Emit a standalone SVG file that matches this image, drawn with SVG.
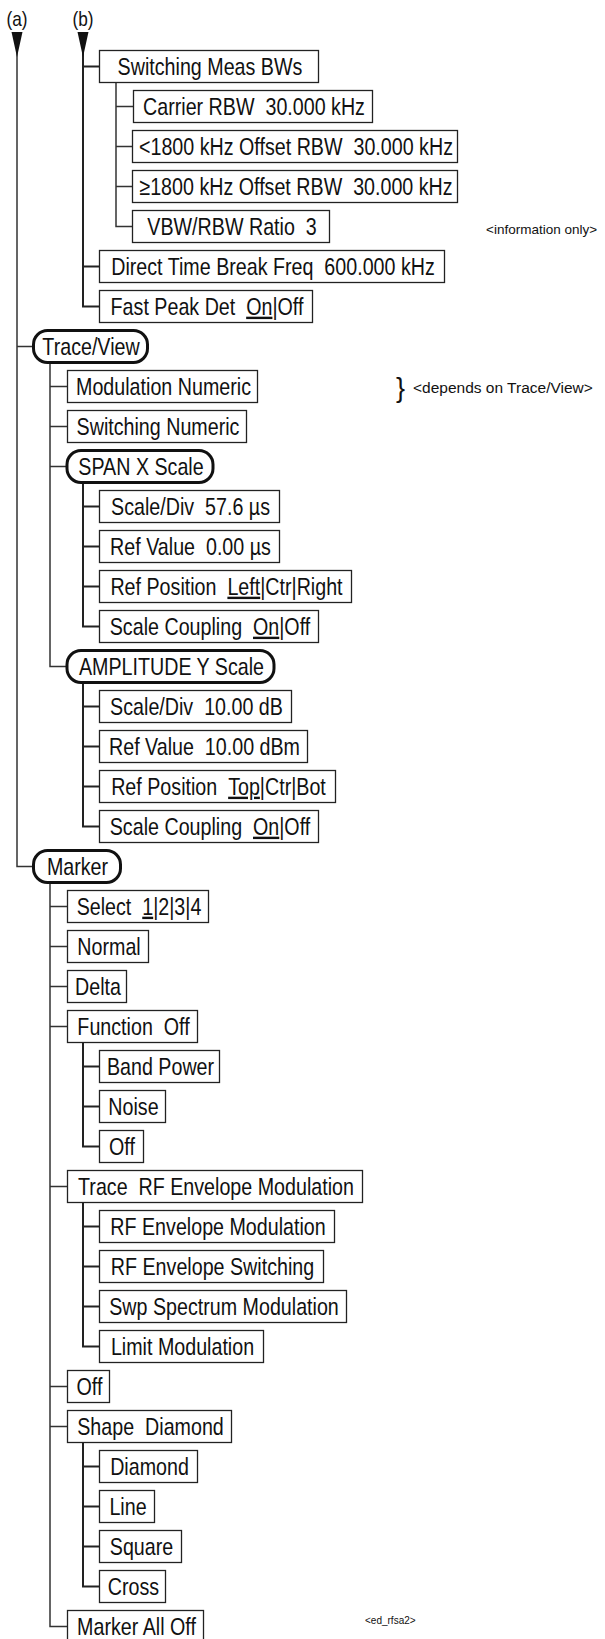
<svg xmlns="http://www.w3.org/2000/svg" width="605" height="1639" viewBox="0 0 605 1639">
<style>
text{font-family:"Liberation Sans",Arial,sans-serif;fill:#111}
.t{font-size:24px;text-anchor:middle}
.b{fill:#fff;stroke:#222;stroke-width:1.3}
.r{fill:#fff;stroke:#111;stroke-width:3}
.c{fill:none;stroke:#333;stroke-width:1.5}
.c2{fill:none;stroke:#222;stroke-width:2}
.u{text-decoration:underline}
</style>
<rect width="605" height="1639" fill="#fff"/>
<g id="connectors">
<path class="c" d="M17,32V866.5H33M17,346.5H33"/>
<path class="c2" d="M83,32V306.5H99M83,66.5H99M83,266.5H99"/>
<path class="c" d="M116,83V226.5H133M116,106.5H133M116,146.5H133M116,186.5H133"/>
<path class="c" d="M50,363V666.5H67M50,386.5H67M50,426.5H67M50,466.5H67"/>
<path class="c2" d="M83,484V626.5H99M83,506.5H99M83,546.5H99M83,586.5H99"/>
<path class="c2" d="M83,684V826.5H99M83,706.5H99M83,746.5H99M83,786.5H99"/>
<path class="c" d="M50,883V1626.5H67M50,906.5H67M50,946.5H67M50,986.5H67M50,1026.5H67M50,1186.5H67M50,1386.5H67M50,1426.5H67"/>
<path class="c2" d="M83,1043V1146.5H99M83,1066.5H99M83,1106.5H99"/>
<path class="c2" d="M83,1203V1346.5H99M83,1226.5H99M83,1266.5H99M83,1306.5H99"/>
<path class="c2" d="M83,1443V1586.5H99M83,1466.5H99M83,1506.5H99M83,1546.5H99"/>
<polygon points="11.5,32 22.5,32 17,57" fill="#111"/>
<polygon points="77.5,32 88.5,32 83,57" fill="#111"/>
</g>
<g id="label-a"><text transform="translate(17,26) scale(0.82,1)" font-size="21" text-anchor="middle">(a)</text></g>
<g id="label-b"><text transform="translate(83,26) scale(0.82,1)" font-size="21" text-anchor="middle">(b)</text></g>

<g id="switching-meas-bws"><rect class="b" x="99.5" y="50.5" width="219" height="32"/><text class="t" transform="translate(210,74.5) scale(0.82,1)">Switching Meas BWs</text></g>
<g id="carrier-rbw"><rect class="b" x="133.5" y="90.5" width="239" height="32"/><text class="t" transform="translate(254,114.5) scale(0.82,1)">Carrier RBW&#160; 30.000 kHz</text></g>
<g id="lt1800"><rect class="b" x="132.5" y="130.5" width="325" height="32"/><text class="t" transform="translate(296,154.5) scale(0.82,1)">&lt;1800 kHz Offset RBW&#160; 30.000 kHz</text></g>
<g id="ge1800"><rect class="b" x="132.5" y="170.5" width="325" height="32"/><text class="t" transform="translate(296,194.5) scale(0.82,1)">≥1800 kHz Offset RBW&#160; 30.000 kHz</text></g>
<g id="vbw-rbw"><rect class="b" x="132.5" y="210.5" width="197" height="32"/><text class="t" transform="translate(232,234.5) scale(0.82,1)">VBW/RBW Ratio&#160; 3</text></g>
<g id="direct-time"><rect class="b" x="99.5" y="250.5" width="345" height="32"/><text class="t" transform="translate(273,274.5) scale(0.82,1)">Direct Time Break Freq&#160; 600.000 kHz</text></g>
<g id="fast-peak"><rect class="b" x="99.5" y="290.5" width="213" height="32"/><text class="t" transform="translate(207,314.5) scale(0.82,1)">Fast Peak Det&#160; <tspan class="u">On</tspan>|Off</text></g>

<g id="trace-view"><rect class="r" x="33.5" y="330.5" width="114" height="32" rx="14"/><text class="t" transform="translate(91,354.5) scale(0.82,1)">Trace/View</text></g>
<g id="modulation-numeric"><rect class="b" x="67.5" y="370.5" width="190" height="32"/><text class="t" transform="translate(163.5,394.5) scale(0.82,1)">Modulation Numeric</text></g>
<g id="switching-numeric"><rect class="b" x="67.5" y="410.5" width="179" height="32"/><text class="t" transform="translate(158,434.5) scale(0.82,1)">Switching Numeric</text></g>

<g id="span-x-scale"><rect class="r" x="67" y="450.5" width="146" height="32" rx="14"/><text class="t" transform="translate(141,474.5) scale(0.82,1)">SPAN X Scale</text></g>
<g id="x-scale-div"><rect class="b" x="99.5" y="490.5" width="180" height="32"/><text class="t" transform="translate(190.5,514.5) scale(0.82,1)">Scale/Div&#160; 57.6 µs</text></g>
<g id="x-ref-value"><rect class="b" x="99.5" y="530.5" width="180" height="32"/><text class="t" transform="translate(190.5,554.5) scale(0.82,1)">Ref Value&#160; 0.00 µs</text></g>
<g id="x-ref-position"><rect class="b" x="99.5" y="570.5" width="252" height="32"/><text class="t" transform="translate(226.5,594.5) scale(0.82,1)">Ref Position&#160; <tspan class="u">Left</tspan>|Ctr|Right</text></g>
<g id="x-scale-coupling"><rect class="b" x="99.5" y="610.5" width="219" height="32"/><text class="t" transform="translate(210,634.5) scale(0.82,1)">Scale Coupling&#160; <tspan class="u">On</tspan>|Off</text></g>

<g id="amplitude-y-scale"><rect class="r" x="67" y="650.5" width="207" height="32" rx="14"/><text class="t" transform="translate(171.5,674.5) scale(0.82,1)">AMPLITUDE Y Scale</text></g>
<g id="y-scale-div"><rect class="b" x="99.5" y="690.5" width="192" height="32"/><text class="t" transform="translate(196.5,714.5) scale(0.82,1)">Scale/Div&#160; 10.00 dB</text></g>
<g id="y-ref-value"><rect class="b" x="99.5" y="730.5" width="208" height="32"/><text class="t" transform="translate(204.5,754.5) scale(0.82,1)">Ref Value&#160; 10.00 dBm</text></g>
<g id="y-ref-position"><rect class="b" x="99.5" y="770.5" width="236" height="32"/><text class="t" transform="translate(218.5,794.5) scale(0.82,1)">Ref Position&#160; <tspan class="u">Top</tspan>|Ctr|Bot</text></g>
<g id="y-scale-coupling"><rect class="b" x="99.5" y="810.5" width="219" height="32"/><text class="t" transform="translate(210,834.5) scale(0.82,1)">Scale Coupling&#160; <tspan class="u">On</tspan>|Off</text></g>

<g id="marker"><rect class="r" x="33.5" y="850.5" width="87" height="32" rx="14"/><text class="t" transform="translate(77.5,874.5) scale(0.82,1)">Marker</text></g>
<g id="select"><rect class="b" x="67.5" y="890.5" width="141" height="32"/><text class="t" transform="translate(139,914.5) scale(0.82,1)">Select&#160; <tspan class="u">1</tspan>|2|3|4</text></g>
<g id="normal"><rect class="b" x="67.5" y="930.5" width="81" height="32"/><text class="t" transform="translate(109,954.5) scale(0.82,1)">Normal</text></g>
<g id="delta"><rect class="b" x="67.5" y="970.5" width="59" height="32"/><text class="t" transform="translate(98,994.5) scale(0.82,1)">Delta</text></g>
<g id="function-off"><rect class="b" x="67.5" y="1010.5" width="130" height="32"/><text class="t" transform="translate(133.5,1034.5) scale(0.82,1)">Function&#160; Off</text></g>
<g id="band-power"><rect class="b" x="99.5" y="1050.5" width="120" height="32"/><text class="t" transform="translate(160.5,1074.5) scale(0.82,1)">Band Power</text></g>
<g id="noise"><rect class="b" x="99.5" y="1090.5" width="66" height="32"/><text class="t" transform="translate(133.5,1114.5) scale(0.82,1)">Noise</text></g>
<g id="function-off-item"><rect class="b" x="99.5" y="1130.5" width="44" height="32"/><text class="t" transform="translate(122,1154.5) scale(0.82,1)">Off</text></g>
<g id="trace-rf"><rect class="b" x="67.5" y="1170.5" width="295" height="32"/><text class="t" transform="translate(216,1194.5) scale(0.82,1)">Trace&#160; RF Envelope Modulation</text></g>
<g id="rf-env-mod"><rect class="b" x="99.5" y="1210.5" width="235" height="32"/><text class="t" transform="translate(218,1234.5) scale(0.82,1)">RF Envelope Modulation</text></g>
<g id="rf-env-sw"><rect class="b" x="99.5" y="1250.5" width="224" height="32"/><text class="t" transform="translate(212.5,1274.5) scale(0.82,1)">RF Envelope Switching</text></g>
<g id="swp-spec-mod"><rect class="b" x="99.5" y="1290.5" width="247" height="32"/><text class="t" transform="translate(224,1314.5) scale(0.82,1)">Swp Spectrum Modulation</text></g>
<g id="limit-mod"><rect class="b" x="99.5" y="1330.5" width="164" height="32"/><text class="t" transform="translate(182.5,1354.5) scale(0.82,1)">Limit Modulation</text></g>
<g id="marker-off"><rect class="b" x="67.5" y="1370.5" width="42" height="32"/><text class="t" transform="translate(89.5,1394.5) scale(0.82,1)">Off</text></g>
<g id="shape"><rect class="b" x="67.5" y="1410.5" width="164" height="32"/><text class="t" transform="translate(150.5,1434.5) scale(0.82,1)">Shape&#160; Diamond</text></g>
<g id="diamond"><rect class="b" x="99.5" y="1450.5" width="98" height="32"/><text class="t" transform="translate(149.5,1474.5) scale(0.82,1)">Diamond</text></g>
<g id="line"><rect class="b" x="99.5" y="1490.5" width="55" height="32"/><text class="t" transform="translate(128,1514.5) scale(0.82,1)">Line</text></g>
<g id="square"><rect class="b" x="99.5" y="1530.5" width="82" height="32"/><text class="t" transform="translate(141.5,1554.5) scale(0.82,1)">Square</text></g>
<g id="cross"><rect class="b" x="99.5" y="1570.5" width="66" height="32"/><text class="t" transform="translate(133.5,1594.5) scale(0.82,1)">Cross</text></g>
<g id="marker-all-off"><rect class="b" x="67.5" y="1610.5" width="136" height="40"/><text class="t" transform="translate(136.5,1634.5) scale(0.82,1)">Marker All Off</text></g>

<g id="note-info"><text x="486" y="234" font-size="13.5">&lt;information only&gt;</text></g>
<g id="note-depends"><text x="396" y="397" font-size="27">}</text><text x="413" y="393" font-size="15.5">&lt;depends on Trace/View&gt;</text></g>
<g id="note-ed"><text x="365" y="1624" font-size="10">&lt;ed_rfsa2&gt;</text></g>
</svg>
